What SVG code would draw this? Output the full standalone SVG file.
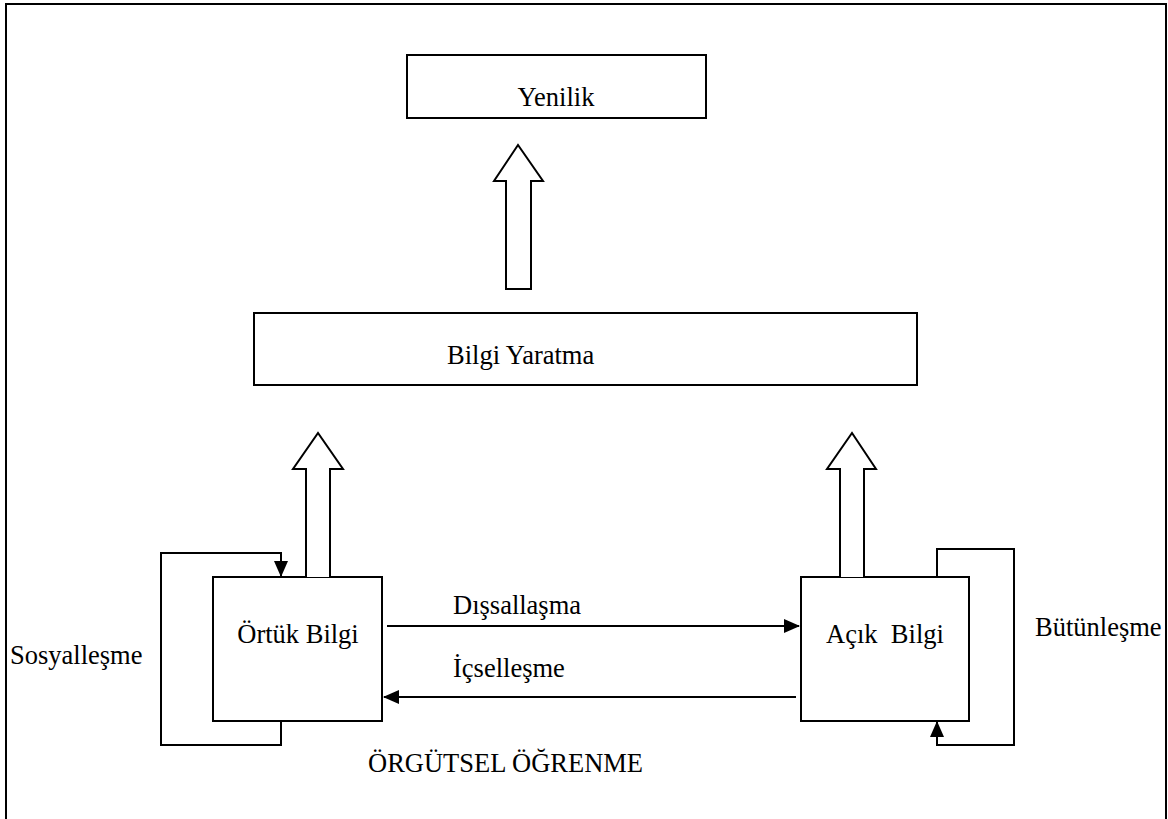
<svg xmlns="http://www.w3.org/2000/svg" width="1168" height="819" viewBox="0 0 1168 819">
  <style>
    .box { fill: #fff; stroke: #000; stroke-width: 2; }
    .frame { fill: none; stroke: #000; stroke-width: 2; }
    .line { fill: none; stroke: #000; stroke-width: 2; }
    .block { fill: #fff; stroke: #000; stroke-width: 2; stroke-linejoin: miter; }
    text { font-family: "Liberation Serif", "Times New Roman", serif; font-size: 26.5px; fill: #000; }
    .mid { text-anchor: middle; }
  </style>
  <defs>
    <marker id="head" markerWidth="16" markerHeight="14" refX="15" refY="7" orient="auto" markerUnits="userSpaceOnUse">
      <path d="M0,0 L16,7 L0,14 Z" fill="#000"/>
    </marker>
  </defs>

  <rect width="1168" height="819" fill="#fff"/>
  <!-- outer frame, open at the bottom -->
  <path class="frame" d="M6,819 V4 H1166 V819"/>

  <g id="yenilik">
    <rect class="box" x="407" y="55" width="299" height="63"/>
    <text class="mid" x="556" y="106">Yenilik</text>
  </g>

  <g id="bilgi-yaratma">
    <rect class="box" x="254" y="313" width="663" height="72"/>
    <text x="447" y="364">Bilgi Yaratma</text>
  </g>

  <g id="ortuk-bilgi">
    <rect class="box" x="213" y="577" width="169" height="144"/>
    <text class="mid" x="298" y="643">Örtük Bilgi</text>
  </g>

  <g id="acik-bilgi">
    <rect class="box" x="801" y="577" width="168" height="144"/>
    <text class="mid" x="885" y="643">Açık&#160; Bilgi</text>
  </g>

  <g id="connectors">
    <!-- hollow upward arrows -->
    <path class="block" d="M506,289 V181 H494 L518,145 L543,181 H531 V289 Z"/>
    <path class="block" d="M306,577 V469 H293 L318,433 L343,469 H330 V577"/>
    <path class="block" d="M840,577 V469 H827 L852,433 L876,469 H864 V577"/>

    <!-- Dışsallaşma / İçselleşme -->
    <line class="line" x1="387" y1="626" x2="799" y2="626" marker-end="url(#head)"/>
    <line class="line" x1="796" y1="697" x2="384" y2="697" marker-end="url(#head)"/>

    <!-- Sosyalleşme loop -->
    <path class="line" d="M281,721 V745 H161 V553 H281 V576" marker-end="url(#head)"/>
    <!-- Bütünleşme loop -->
    <path class="line" d="M937,577 V549 H1014 V745 H937 V722" marker-end="url(#head)"/>
  </g>

  <g id="labels">
    <text x="453" y="614">Dışsallaşma</text>
    <text x="453" y="677">İçselleşme</text>
    <text x="10" y="664">Sosyalleşme</text>
    <text x="1035" y="636">Bütünleşme</text>
    <text x="368" y="772">ÖRGÜTSEL ÖĞRENME</text>
  </g>
</svg>
